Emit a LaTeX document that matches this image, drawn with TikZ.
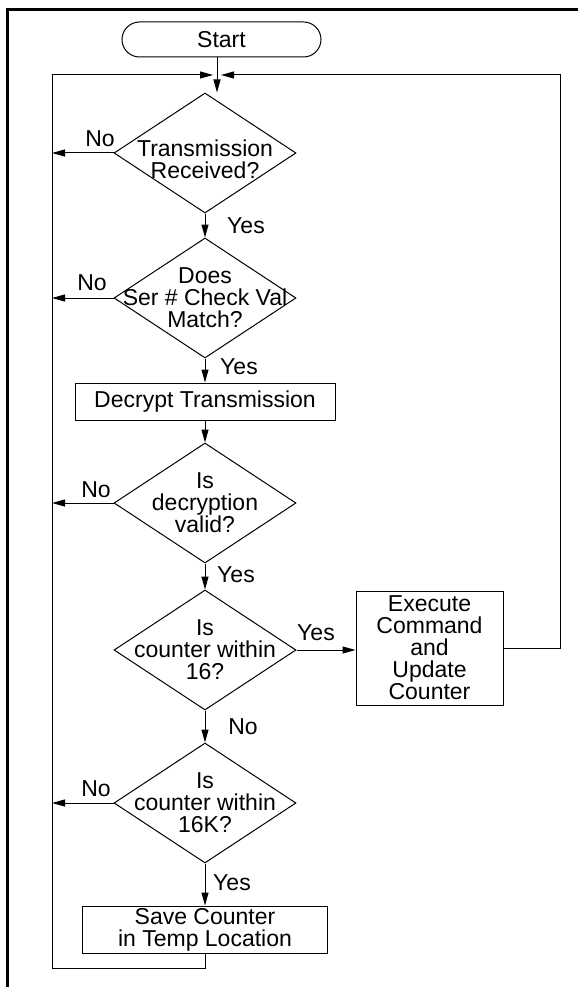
\documentclass[tikz,border=0pt]{standalone}
\usepackage{fontspec}
\setmainfont{Liberation Sans}
\usetikzlibrary{shapes.geometric,arrows.meta}

\tikzset{
  decision/.style={diamond,draw,minimum width=182pt,minimum height=120pt,inner sep=0pt},
  qtext/.style={align=center,inner sep=0pt},
  process/.style={rectangle,draw,align=center,inner sep=0pt},
  lbl/.style={inner sep=0pt},
}

\begin{document}
\begin{tikzpicture}[x=1pt,y=-1pt,line width=1pt,>={Triangle[length=13pt,width=7pt]},
    every node/.style={font=\fontsize{23}{22}\selectfont}]
     \useasboundingbox (0,0) rectangle (578,987);
     \draw[line width=2.5pt] (7.5,987) -- (7.5,9.5) -- (578,9.5);

     \node[draw,rounded corners=17.5pt,minimum width=199pt,minimum height=35pt,inner sep=0pt] (start) at (221.5,39.5) {Start};
     \node[decision,label={[qtext,yshift=-6pt]center:Transmission\\Received?}] (rx) at (205,153) {};
     \node[decision,label={[qtext]center:Does\\Ser \# Check Val\\Match?}] (ser) at (205,298) {};
     \node[process,minimum width=260pt,minimum height=37pt] (decrypt) at (205,401.5) {Decrypt Transmission};
     \node[decision,label={[qtext]center:Is\\decryption\\valid?}] (valid) at (205,503) {};
     \node[decision,label={[qtext]center:Is\\counter within\\16?}] (win16) at (205,650) {};
     \node[process,minimum width=147pt,minimum height=114pt] (exec) at (429.5,648) {Execute\\Command\\and\\Update\\Counter};
     \node[decision,label={[qtext]center:Is\\counter within\\16K?}] (win16k) at (205,803) {};
     \node[process,minimum width=245pt,minimum height=47pt] (save) at (205,929.5) {Save Counter\\in Temp Location};

     \coordinate (junc) at (217,75);
     \coordinate (jl) at (213,75);
     \coordinate (jr) at (221,75);
     \coordinate (loopL) at (52,968);
     \coordinate (loopR) at (560,75);

     \draw (start.south -| junc) -- (junc);
     \draw[->] (junc) -- (junc |- rx.north);
     \foreach \a/\b in {rx/ser,ser/decrypt,decrypt/valid,valid/win16,win16/win16k,win16k/save}
      \draw[->] (\a.south) -- (\b.north);
     \foreach \q in {rx,ser,valid,win16k}
      \draw[->] (\q.west) -- (\q.west -| loopL);
     \draw[->] (win16.east) -- (win16.east -| exec.west);
     \draw[->] (exec.east) -- (exec.east -| loopR) -- (loopR) -- (jr);
     \draw[->] (save.south) -- (save.south |- loopL) -- (loopL) -- (loopL |- jl) -- (jl);

     \foreach \n/\x/\y/\t in {no1/100/139/No,yes1/246/226/Yes,no2/92/283/No,yes2/239/367/Yes,
       no3/96/490/No,yes3/236/575/Yes,yes4/316/633/Yes,no4/243/727/No,no5/96/789/No,yes5/232/883/Yes}
      \node[lbl] (\n) at (\x,\y) {\t};
    \end{tikzpicture}
\end{document}
